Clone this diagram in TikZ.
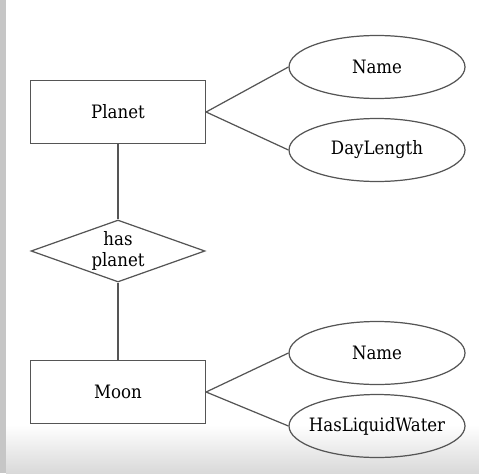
\documentclass[tikz,border=0pt]{standalone}
\usepackage{fontspec}
\setmainfont{DejaVu Serif Condensed}
\usetikzlibrary{shapes.geometric}
\definecolor{edge}{HTML}{555555}
\begin{document}
\begin{tikzpicture}[x=0.02cm,y=-0.02cm,font=\fontsize{10.5}{12}\selectfont,
  entity/.style={draw=edge,line width=.7pt,minimum width=3.5cm,minimum height=1.26cm},
  attr/.style={draw=edge,line width=.7pt,ellipse,inner sep=0pt,minimum width=3.52cm,minimum height=1.26cm},
  rel/.style={draw=edge,line width=.7pt,diamond,aspect=2.8,inner sep=0pt,minimum width=3.48cm,minimum height=1.24cm,align=center},
  link/.style={draw=edge,line width=.7pt}]
\useasboundingbox (0,0) rectangle (479,473);
% background of the frame
\fill[gray!45] (0,0) rectangle (6,473);
\shade[top color=white,bottom color=gray!30] (6,425) rectangle (479,473);
% entities
\node[entity] (planet) at (118,112) {Planet};
\node[entity] (moon) at (118,392) {Moon};
\node[rel] (has) at (118,251) {has\\planet};
% attributes
\node[attr] (pname) at (377,67) {Name};
\node[attr] (daylen) at (377,150) {DayLength};
\node[attr] (mname) at (377,353) {Name};
\node[attr] (water) at (377,426) {\makebox[0pt]{HasLiquidWater}};
% links
\draw[link] (planet.east) -- (pname.west);
\draw[link] (planet.east) -- (daylen.west);
\draw[link] (moon.east) -- (mname.west);
\draw[link] (moon.east) -- (water.west);
\draw[link] (planet.south) -- (has.north);
\draw[link] (has.south) -- (moon.north);
\end{tikzpicture}
\end{document}
